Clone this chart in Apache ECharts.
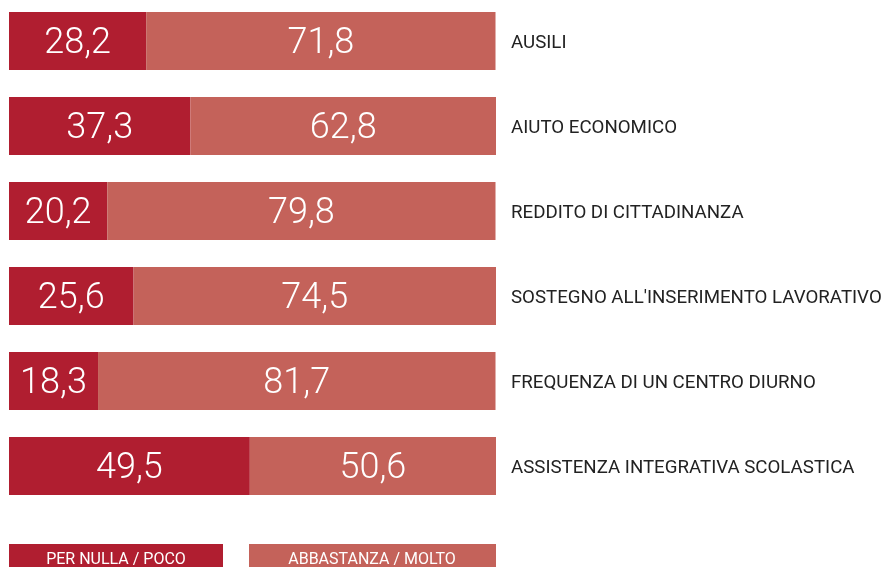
<!DOCTYPE html>
<html>
<head>
<meta charset="utf-8">
<script src="https://cdn.jsdelivr.net/npm/echarts@6/dist/echarts.min.js"></script>
<style>
  html, body { margin: 0; padding: 0; background: #fff; }
  #chart { width: 884px; height: 567px; }
</style>
</head>
<body>
<div id="chart"></div>
<script>
  // categorie (dall'alto in basso)
  var categories = [
    'AUSILI',
    'AIUTO ECONOMICO',
    'REDDITO DI CITTADINANZA',
    "SOSTEGNO ALL'INSERIMENTO LAVORATIVO",
    'FREQUENZA DI UN CENTRO DIURNO',
    'ASSISTENZA INTEGRATIVA SCOLASTICA'
  ];
  var perNullaPoco = [28.2, 37.3, 20.2, 25.6, 18.3, 49.5];
  var abbastanzaMolto = [71.8, 62.8, 79.8, 74.5, 81.7, 50.6];
  var seriesNames = ['PER NULLA / POCO', 'ABBASTANZA / MOLTO'];
  var colors = ['#B01E30', '#C4625A'];

  var myChart = echarts.init(document.getElementById('chart'));

  function fmt(p) {
    return p.value.toFixed(1).replace('.', ',');
  }
  var valueLabel = {
    show: true,
    position: 'inside',
    offset: [0, 3],
    color: '#fff',
    fontFamily: 'Roboto',
    fontWeight: 300,
    fontSize: 36,
    formatter: fmt
  };

  var option = {
    animation: false,
    grid: { left: 9, right: 388, top: -1.5, height: 510, outerBoundsMode: 'none' },
    xAxis: {
      type: 'value',
      min: 0,
      max: 100.1,
      show: false
    },
    yAxis: {
      type: 'category',
      data: categories,
      inverse: true,
      position: 'right',
      axisLine: { show: false },
      axisTick: { show: false },
      axisLabel: {
        margin: 15,
        formatter: function (v) { return '{c|' + v + '}'; },
        rich: {
          c: {
            padding: [5, 0, 0, 0],
            color: '#222',
            fontFamily: 'Roboto',
            fontSize: 18.7
          }
        }
      }
    },
    series: [{
      name: seriesNames[0],
      type: 'bar',
      stack: 'tot',
      barWidth: 58,
      itemStyle: { color: colors[0] },
      label: valueLabel,
      data: perNullaPoco
    }, {
      name: seriesNames[1],
      type: 'bar',
      stack: 'tot',
      barWidth: 58,
      itemStyle: { color: colors[1] },
      label: valueLabel,
      data: abbastanzaMolto
    }],
    graphic: [{
      type: 'rect',
      x: 9, y: 544,
      shape: { width: 214, height: 24 },
      style: { fill: colors[0] }
    }, {
      type: 'text',
      x: 116, y: 560,
      style: {
        text: seriesNames[0], fill: '#fff', fontFamily: 'Roboto', fontSize: 16,
        align: 'center', verticalAlign: 'middle'
      }
    }, {
      type: 'rect',
      x: 249, y: 544,
      shape: { width: 247, height: 24 },
      style: { fill: colors[1] }
    }, {
      type: 'text',
      x: 372, y: 560,
      style: {
        text: seriesNames[1], fill: '#fff', fontFamily: 'Roboto', fontSize: 16,
        align: 'center', verticalAlign: 'middle'
      }
    }]
  };
  myChart.setOption(option);
</script>
</body>
</html>
